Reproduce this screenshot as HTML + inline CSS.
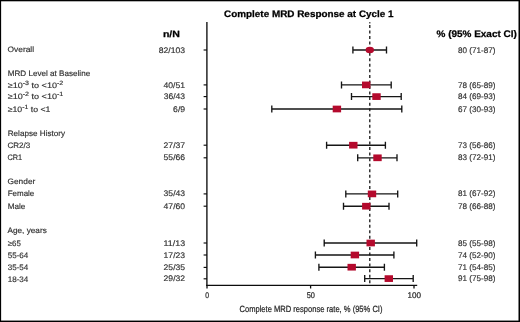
<!DOCTYPE html>
<html><head><meta charset="utf-8"><title>Complete MRD Response at Cycle 1</title>
<style>html,body{margin:0;padding:0;background:#fff;}body{width:520px;height:322px;overflow:hidden;font-family:"Liberation Sans",sans-serif;}svg{display:block;will-change:transform;}text{font-family:"Liberation Sans",sans-serif;text-rendering:geometricPrecision;}</style>
</head><body>
<svg width="520" height="322" viewBox="0 0 520 322">
<rect x="0" y="0" width="520" height="1.3" fill="#000"/>
<rect x="0" y="0" width="1.12" height="322" fill="#000"/>
<rect x="518.5" y="0" width="1.5" height="322" fill="#000"/>
<rect x="0" y="320.58" width="520" height="1.42" fill="#000"/>
<text x="224.00" y="16.65" font-size="9.4" font-weight="bold" fill="#000" textLength="169.60" lengthAdjust="spacingAndGlyphs" stroke="#000" stroke-width="0.25">Complete MRD Response at Cycle 1</text>
<text x="162.90" y="36.60" font-size="9.0" font-weight="bold" fill="#000" textLength="17.00" lengthAdjust="spacingAndGlyphs" stroke="#000" stroke-width="0.25">n/N</text>
<text x="436.60" y="36.75" font-size="9.5" font-weight="bold" fill="#000" textLength="80.20" lengthAdjust="spacingAndGlyphs" stroke="#000" stroke-width="0.25">% (95% Exact CI)</text>
<text x="7.50" y="52.40" font-size="7.9" font-weight="normal" fill="#303030" textLength="26.60" lengthAdjust="spacingAndGlyphs" stroke="#303030" stroke-width="0.16">Overall</text>
<text x="7.70" y="76.40" font-size="7.9" font-weight="normal" fill="#303030" textLength="82.50" lengthAdjust="spacingAndGlyphs" stroke="#303030" stroke-width="0.16">MRD Level at Baseline</text>
<text x="7.70" y="87.70" font-size="7.9" font-weight="normal" fill="#303030" textLength="55.60" lengthAdjust="spacingAndGlyphs" stroke="#303030" stroke-width="0.16">≥10<tspan dy="-3.0" font-size="6.2">-3</tspan><tspan dy="3.0"> to &lt;10</tspan><tspan dy="-3.0" font-size="6.2">-2</tspan></text>
<text x="7.70" y="99.30" font-size="7.9" font-weight="normal" fill="#303030" textLength="55.60" lengthAdjust="spacingAndGlyphs" stroke="#303030" stroke-width="0.16">≥10<tspan dy="-3.0" font-size="6.2">-2</tspan><tspan dy="3.0"> to &lt;10</tspan><tspan dy="-3.0" font-size="6.2">-1</tspan></text>
<text x="7.70" y="111.70" font-size="7.9" font-weight="normal" fill="#303030" textLength="42.70" lengthAdjust="spacingAndGlyphs" stroke="#303030" stroke-width="0.16">≥10<tspan dy="-3.0" font-size="6.2">-1</tspan><tspan dy="3.0"> to &lt;1</tspan></text>
<text x="7.70" y="136.10" font-size="7.9" font-weight="normal" fill="#303030" textLength="57.40" lengthAdjust="spacingAndGlyphs" stroke="#303030" stroke-width="0.16">Relapse History</text>
<text x="7.50" y="147.90" font-size="7.9" font-weight="normal" fill="#303030" textLength="22.80" lengthAdjust="spacingAndGlyphs" stroke="#303030" stroke-width="0.16">CR2/3</text>
<text x="7.50" y="159.70" font-size="7.9" font-weight="normal" fill="#303030" textLength="14.70" lengthAdjust="spacingAndGlyphs" stroke="#303030" stroke-width="0.16">CR1</text>
<text x="7.50" y="184.40" font-size="7.9" font-weight="normal" fill="#303030" textLength="27.80" lengthAdjust="spacingAndGlyphs" stroke="#303030" stroke-width="0.16">Gender</text>
<text x="7.70" y="196.45" font-size="7.9" font-weight="normal" fill="#303030" textLength="26.60" lengthAdjust="spacingAndGlyphs" stroke="#303030" stroke-width="0.16">Female</text>
<text x="7.70" y="209.10" font-size="7.9" font-weight="normal" fill="#303030" textLength="17.70" lengthAdjust="spacingAndGlyphs" stroke="#303030" stroke-width="0.16">Male</text>
<text x="7.50" y="233.10" font-size="7.9" font-weight="normal" fill="#303030" textLength="39.30" lengthAdjust="spacingAndGlyphs" stroke="#303030" stroke-width="0.16">Age, years</text>
<text x="7.70" y="245.85" font-size="7.9" font-weight="normal" fill="#303030" textLength="13.10" lengthAdjust="spacingAndGlyphs" stroke="#303030" stroke-width="0.16">≥65</text>
<text x="7.70" y="257.80" font-size="7.9" font-weight="normal" fill="#303030" textLength="20.60" lengthAdjust="spacingAndGlyphs" stroke="#303030" stroke-width="0.16">55-64</text>
<text x="7.70" y="269.90" font-size="7.9" font-weight="normal" fill="#303030" textLength="20.60" lengthAdjust="spacingAndGlyphs" stroke="#303030" stroke-width="0.16">35-54</text>
<text x="7.70" y="281.50" font-size="7.9" font-weight="normal" fill="#303030" textLength="20.60" lengthAdjust="spacingAndGlyphs" stroke="#303030" stroke-width="0.16">18-34</text>
<text x="158.75" y="52.70" font-size="8.1" font-weight="normal" fill="#303030" textLength="26.35" lengthAdjust="spacingAndGlyphs" stroke="#303030" stroke-width="0.16">82/103</text>
<text x="458.00" y="52.70" font-size="8.1" font-weight="normal" fill="#303030" textLength="37.50" lengthAdjust="spacingAndGlyphs" stroke="#303030" stroke-width="0.16">80 (71-87)</text>
<text x="163.50" y="87.60" font-size="8.1" font-weight="normal" fill="#303030" textLength="21.60" lengthAdjust="spacingAndGlyphs" stroke="#303030" stroke-width="0.16">40/51</text>
<text x="458.00" y="87.60" font-size="8.1" font-weight="normal" fill="#303030" textLength="37.50" lengthAdjust="spacingAndGlyphs" stroke="#303030" stroke-width="0.16">78 (65-89)</text>
<text x="163.70" y="99.30" font-size="8.1" font-weight="normal" fill="#303030" textLength="21.40" lengthAdjust="spacingAndGlyphs" stroke="#303030" stroke-width="0.16">36/43</text>
<text x="458.00" y="99.30" font-size="8.1" font-weight="normal" fill="#303030" textLength="37.50" lengthAdjust="spacingAndGlyphs" stroke="#303030" stroke-width="0.16">84 (69-93)</text>
<text x="173.10" y="111.70" font-size="8.1" font-weight="normal" fill="#303030" textLength="12.00" lengthAdjust="spacingAndGlyphs" stroke="#303030" stroke-width="0.16">6/9</text>
<text x="458.00" y="111.70" font-size="8.1" font-weight="normal" fill="#303030" textLength="37.50" lengthAdjust="spacingAndGlyphs" stroke="#303030" stroke-width="0.16">67 (30-93)</text>
<text x="163.60" y="147.70" font-size="8.1" font-weight="normal" fill="#303030" textLength="21.50" lengthAdjust="spacingAndGlyphs" stroke="#303030" stroke-width="0.16">27/37</text>
<text x="458.00" y="147.70" font-size="8.1" font-weight="normal" fill="#303030" textLength="37.50" lengthAdjust="spacingAndGlyphs" stroke="#303030" stroke-width="0.16">73 (56-86)</text>
<text x="163.60" y="160.30" font-size="8.1" font-weight="normal" fill="#303030" textLength="21.50" lengthAdjust="spacingAndGlyphs" stroke="#303030" stroke-width="0.16">55/66</text>
<text x="458.00" y="160.30" font-size="8.1" font-weight="normal" fill="#303030" textLength="37.50" lengthAdjust="spacingAndGlyphs" stroke="#303030" stroke-width="0.16">83 (72-91)</text>
<text x="163.60" y="196.40" font-size="8.1" font-weight="normal" fill="#303030" textLength="21.50" lengthAdjust="spacingAndGlyphs" stroke="#303030" stroke-width="0.16">35/43</text>
<text x="458.00" y="196.40" font-size="8.1" font-weight="normal" fill="#303030" textLength="37.50" lengthAdjust="spacingAndGlyphs" stroke="#303030" stroke-width="0.16">81 (67-92)</text>
<text x="163.60" y="208.90" font-size="8.1" font-weight="normal" fill="#303030" textLength="21.50" lengthAdjust="spacingAndGlyphs" stroke="#303030" stroke-width="0.16">47/60</text>
<text x="458.00" y="208.90" font-size="8.1" font-weight="normal" fill="#303030" textLength="37.50" lengthAdjust="spacingAndGlyphs" stroke="#303030" stroke-width="0.16">78 (66-88)</text>
<text x="163.60" y="245.50" font-size="8.1" font-weight="normal" fill="#303030" textLength="21.50" lengthAdjust="spacingAndGlyphs" stroke="#303030" stroke-width="0.16">11/13</text>
<text x="458.00" y="245.50" font-size="8.1" font-weight="normal" fill="#303030" textLength="37.50" lengthAdjust="spacingAndGlyphs" stroke="#303030" stroke-width="0.16">85 (55-98)</text>
<text x="163.60" y="257.50" font-size="8.1" font-weight="normal" fill="#303030" textLength="21.50" lengthAdjust="spacingAndGlyphs" stroke="#303030" stroke-width="0.16">17/23</text>
<text x="458.00" y="257.50" font-size="8.1" font-weight="normal" fill="#303030" textLength="37.50" lengthAdjust="spacingAndGlyphs" stroke="#303030" stroke-width="0.16">74 (52-90)</text>
<text x="163.60" y="269.90" font-size="8.1" font-weight="normal" fill="#303030" textLength="21.50" lengthAdjust="spacingAndGlyphs" stroke="#303030" stroke-width="0.16">25/35</text>
<text x="458.00" y="269.90" font-size="8.1" font-weight="normal" fill="#303030" textLength="37.50" lengthAdjust="spacingAndGlyphs" stroke="#303030" stroke-width="0.16">71 (54-85)</text>
<text x="163.60" y="281.10" font-size="8.1" font-weight="normal" fill="#303030" textLength="21.50" lengthAdjust="spacingAndGlyphs" stroke="#303030" stroke-width="0.16">29/32</text>
<text x="458.00" y="281.10" font-size="8.1" font-weight="normal" fill="#303030" textLength="37.50" lengthAdjust="spacingAndGlyphs" stroke="#303030" stroke-width="0.16">91 (75-98)</text>
<g stroke="#0d0d0d" fill="none">
<line x1="206.9" y1="21.9" x2="206.9" y2="286" stroke-width="1.35"/>
<line x1="206.2" y1="285.35" x2="417.2" y2="285.35" stroke-width="1.45"/>
<line x1="203.6" y1="50.00" x2="207" y2="50.00" stroke-width="1.15"/>
<line x1="203.6" y1="84.90" x2="207" y2="84.90" stroke-width="1.15"/>
<line x1="203.6" y1="96.60" x2="207" y2="96.60" stroke-width="1.15"/>
<line x1="203.6" y1="109.00" x2="207" y2="109.00" stroke-width="1.15"/>
<line x1="203.6" y1="145.20" x2="207" y2="145.20" stroke-width="1.15"/>
<line x1="203.6" y1="157.80" x2="207" y2="157.80" stroke-width="1.15"/>
<line x1="203.6" y1="193.90" x2="207" y2="193.90" stroke-width="1.15"/>
<line x1="203.6" y1="206.20" x2="207" y2="206.20" stroke-width="1.15"/>
<line x1="203.6" y1="243.00" x2="207" y2="243.00" stroke-width="1.15"/>
<line x1="203.6" y1="255.00" x2="207" y2="255.00" stroke-width="1.15"/>
<line x1="203.6" y1="267.40" x2="207" y2="267.40" stroke-width="1.15"/>
<line x1="203.6" y1="278.80" x2="207" y2="278.80" stroke-width="1.15"/>
<line x1="207" y1="285.4" x2="207" y2="288.5" stroke-width="1.3"/>
<line x1="310.6" y1="285.4" x2="310.6" y2="288.5" stroke-width="1.3"/>
<line x1="414" y1="285.4" x2="414" y2="288.5" stroke-width="1.3"/>
<line x1="369.8" y1="24.95" x2="369.8" y2="285" stroke-width="1.25" stroke-dasharray="3.0 2.55"/>
<line x1="369.8" y1="22.0" x2="369.8" y2="23.5" stroke-width="1.25" stroke-opacity="0.8"/>
</g>
<g stroke="#161616" stroke-width="1.35" fill="none">
<path d="M352.90 50.00H386.50M352.90 46.50V53.50M386.50 46.50V53.50"/>
<path d="M341.50 84.90H391.20M341.50 81.40V88.40M391.20 81.40V88.40"/>
<path d="M351.50 96.60H401.20M351.50 93.10V100.10M401.20 93.10V100.10"/>
<path d="M271.80 109.00H401.80M271.80 105.50V112.50M401.80 105.50V112.50"/>
<path d="M326.60 145.20H385.40M326.60 141.70V148.70M385.40 141.70V148.70"/>
<path d="M357.70 157.80H397.00M357.70 154.30V161.30M397.00 154.30V161.30"/>
<path d="M345.80 193.90H397.70M345.80 190.40V197.40M397.70 190.40V197.40"/>
<path d="M343.50 206.20H389.00M343.50 202.70V209.70M389.00 202.70V209.70"/>
<path d="M324.20 243.00H416.70M324.20 239.50V246.50M416.70 239.50V246.50"/>
<path d="M315.40 255.00H393.90M315.40 251.50V258.50M393.90 251.50V258.50"/>
<path d="M318.90 267.20H384.40M318.90 263.70V270.70M384.40 263.70V270.70"/>
<path d="M364.70 278.60H413.20M364.70 275.10V282.10M413.20 275.10V282.10"/>
</g>
<g fill="#b40a2d">
<ellipse cx="369.80" cy="50.00" rx="4.2" ry="3.3"/>
<rect x="362.00" y="81.55" width="8.4" height="6.7"/>
<rect x="372.30" y="93.25" width="8.4" height="6.7"/>
<rect x="332.70" y="105.65" width="8.4" height="6.7"/>
<rect x="349.10" y="141.85" width="8.4" height="6.7"/>
<rect x="373.30" y="154.45" width="8.4" height="6.7"/>
<rect x="367.80" y="190.55" width="8.4" height="6.7"/>
<rect x="362.10" y="202.85" width="8.4" height="6.7"/>
<rect x="366.50" y="239.65" width="8.4" height="6.7"/>
<rect x="350.70" y="251.65" width="8.4" height="6.7"/>
<rect x="347.50" y="263.85" width="8.4" height="6.7"/>
<rect x="384.60" y="275.25" width="8.4" height="6.7"/>
</g>
<text x="205.20" y="298.35" font-size="8.3" font-weight="normal" fill="#262626" textLength="3.80" lengthAdjust="spacingAndGlyphs" stroke="#262626" stroke-width="0.22">0</text>
<text x="306.70" y="298.35" font-size="8.3" font-weight="normal" fill="#262626" textLength="8.20" lengthAdjust="spacingAndGlyphs" stroke="#262626" stroke-width="0.22">50</text>
<text x="407.60" y="298.35" font-size="8.3" font-weight="normal" fill="#262626" textLength="13.50" lengthAdjust="spacingAndGlyphs" stroke="#262626" stroke-width="0.22">100</text>
<text x="239.50" y="311.80" font-size="9.0" font-weight="normal" fill="#262626" textLength="143.00" lengthAdjust="spacingAndGlyphs" stroke="#262626" stroke-width="0.22">Complete MRD response rate, % (95% CI)</text>
</svg>
</body></html>
